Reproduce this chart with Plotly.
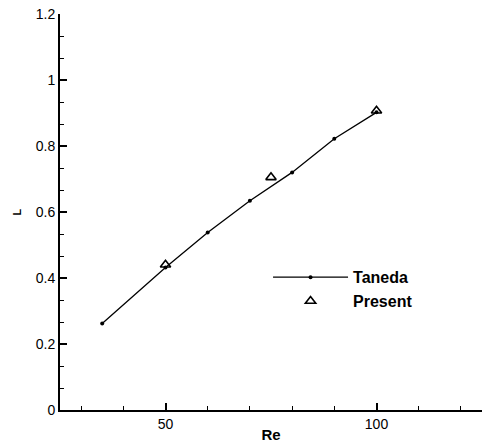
import plotly.graph_objects as go

taneda_re = [35, 50, 60, 70, 80, 90, 100]
taneda_L = [0.262, 0.432, 0.538, 0.634, 0.72, 0.822, 0.902]
present_re = [50, 75, 100]
present_L = [0.44, 0.705, 0.907]

fig = go.Figure()
fig.add_trace(go.Scatter(x=taneda_re, y=taneda_L, mode="lines+markers", name="Taneda",
                         line=dict(color="black", width=1.3),
                         marker=dict(symbol="circle", size=4, color="black")))
fig.add_trace(go.Scatter(x=present_re, y=present_L, mode="markers", name="Present",
                         marker=dict(symbol="triangle-up-open", size=9, color="black",
                                     line=dict(color="black", width=1.6))))

font = "Liberation Sans, Arial, sans-serif"
fig.update_layout(
    width=482, height=443,
    margin=dict(l=60, r=0, t=14, b=33),
    plot_bgcolor="white", paper_bgcolor="white",
    font=dict(family=font, size=12, color="black"),
    legend=dict(x=0.493, y=0.378, xanchor="left", yanchor="top", itemwidth=75,
                font=dict(family=font, size=16, weight="bold"),
                bgcolor="rgba(0,0,0,0)", tracegroupgap=0),
    showlegend=True,
)
fig.update_xaxes(range=[25, 125], tickvals=[50, 100], ticks="inside", ticklen=7,
                 tickwidth=1.5, tickcolor="black", showline=True, linecolor="black",
                 linewidth=2, showgrid=False, zeroline=False, mirror=False,
                 tickfont=dict(size=14),
                 minor=dict(tickvals=[30, 40, 60, 70, 80, 90, 110, 120], ticks="inside",
                            ticklen=4, tickcolor="black", tickwidth=1),
                 title=dict(text="Re", font=dict(size=15, weight="bold"), standoff=2))
fig.update_yaxes(range=[0, 1.2], tickvals=[0, 0.2, 0.4, 0.6, 0.8, 1, 1.2],
                 ticktext=["0", "0.2", "0.4", "0.6", "0.8", "1", "1.2"],
                 ticks="inside", ticklen=7, tickwidth=1.5, tickcolor="black",
                 showline=True, linecolor="black", linewidth=2, showgrid=False,
                 zeroline=False, tickfont=dict(size=14),
                 minor=dict(tick0=0, dtick=0.2/3, ticks="inside", ticklen=4,
                            tickcolor="black", tickwidth=1),
                 title=dict(text="L", font=dict(size=11, weight="bold"), standoff=12))

fig.write_html("out.html", config={"displayModeBar": False},
               post_script="document.body.style.margin='0';")
